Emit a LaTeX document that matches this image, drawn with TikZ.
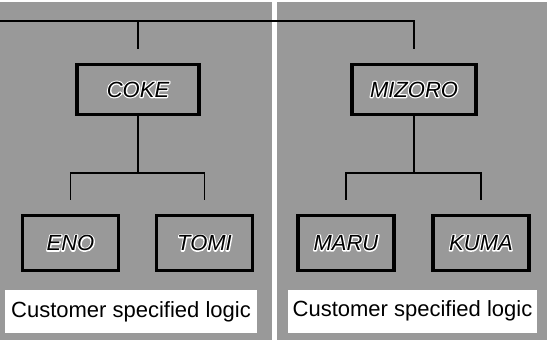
\documentclass[tikz,border=0pt]{standalone}
\usepackage{fontspec}
\setmainfont{Liberation Sans}
% black letters with a white rim: a stroked white copy under the normal one
\newcommand{\rimtext}[1]{\rlap{\special{pdf:code q 1 Tr 2.4 w 1 j 1 1 1 RG}#1\special{pdf:code Q}}#1}
\begin{document}
\begin{tikzpicture}[x=1pt,y=-1pt,
    logic/.style={draw=black, line width=3.8pt, fill=black!40, inner sep=0pt,
        font=\fontsize{22}{24}\selectfont\itshape},
    spec/.style={fill=white, inner sep=0pt, minimum height=43pt, font=\fontsize{22}{25}\selectfont},
    wire/.style={black, line width=1.2pt}]
    \useasboundingbox (0,0) rectangle (547,340);

    % Gray panels
    \fill[black!40] (0,2) rectangle (272,340);
    \fill[black!40] (277,2) rectangle (547,340);

    % Logic blocks
    \node[logic, minimum width=122pt, minimum height=50pt] (coke) at (138,89.5) {\rimtext{COKE}};
    \node[logic, minimum width=124pt, minimum height=50pt] (mizoro) at (414,89.5) {\rimtext{MIZORO}};
    \foreach \n/\x/\t in {eno/70.5/ENO, tomi/204.5/TOMI, maru/346/MARU, kuma/481/KUMA} {
        \node[logic, minimum width=96pt, minimum height=55pt] (\n) at (\x,243) {\rimtext{\t}};
    }

    % Feed line along the top
    \coordinate (feed) at (0,21);
    \draw[wire, shorten >=14pt] (feed) -| (mizoro.north);
    \draw[wire, shorten >=14pt] (coke.north |- feed) -- (coke.north);

    % Fan-out below each block
    \coordinate (cj) at (138,173);
    \coordinate (mj) at (414,173);
    \draw[wire] (coke.south) -- (cj);
    \draw[wire, shorten >=14pt] (cj) -| (eno.north);
    \draw[wire, shorten >=14pt] (cj) -| (tomi.north);
    \draw[wire] (mizoro.south) -- (mj);
    \draw[wire, shorten >=14pt] (mj) -| (maru.north);
    \draw[wire, shorten >=14pt] (mj) -| (kuma.north);

    % Customer specified logic
    \node[spec, minimum width=252pt] (specl) at (131,311.5) {Customer specified logic};
    \node[spec, minimum width=249pt] (specr) at (412.5,311) {Customer specified logic};
\end{tikzpicture}
\end{document}
